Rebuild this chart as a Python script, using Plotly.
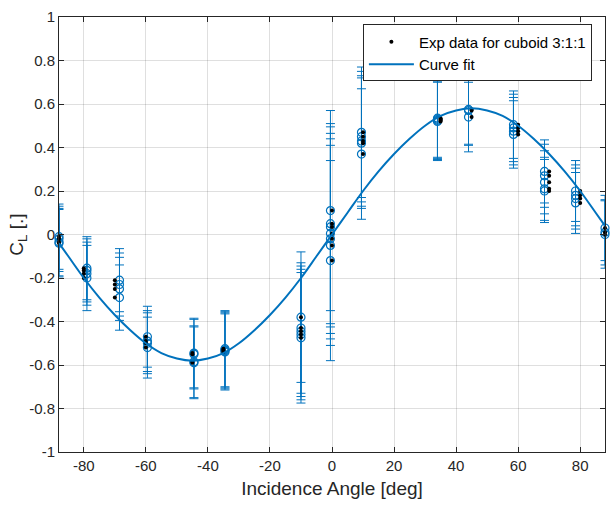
import plotly.graph_objects as go

# ---- data ----
# nominal angles of the experimental points (black dots)
exp_angles = [-88, -80, -70, -60, -45, -35, -10, 0, 10, 35, 45, 60, 70, 80, 88]
# angles at which the error-bar circles are drawn
bar_angles = [-88, -79, -68.5, -59.5, -44.5, -34.5, -10, -0.5, 9.5, 34, 44, 58.5, 68.5, 78.5, 88]
# CL values in each cluster
cl_values = [
    [-0.01, -0.02, -0.035, -0.04],
    [-0.155, -0.165, -0.18, -0.20],
    [-0.21, -0.23, -0.25, -0.29],
    [-0.47, -0.49, -0.50, -0.52],
    [-0.545, -0.55, -0.585, -0.59],
    [-0.525, -0.53, -0.535, -0.54],
    [-0.38, -0.43, -0.445, -0.46, -0.475],
    [0.11, 0.05, 0.035, 0.005, -0.02, -0.05, -0.12],
    [0.47, 0.45, 0.43, 0.42, 0.37],
    [0.52, 0.525, 0.53, 0.535],
    [0.575, 0.57, 0.54],
    [0.505, 0.49, 0.475, 0.46],
    [0.29, 0.27, 0.24, 0.21, 0.20],
    [0.20, 0.18, 0.165, 0.145],
    [0.03, 0.01, 0.0],
]
# error half-widths for each value
cl_errors = [
    [0.15, 0.15, 0.155, 0.155],
    [0.145, 0.145, 0.145, 0.15],
    [0.145, 0.145, 0.145, 0.15],
    [0.14, 0.14, 0.14, 0.14],
    [0.16, 0.16, 0.165, 0.165],
    [0.175, 0.175, 0.175, 0.175],
    [0.30, 0.30, 0.30, 0.30, 0.30],
    [0.46, 0.46, 0.46, 0.46, 0.46, 0.46, 0.46],
    [0.30, 0.30, 0.30, 0.30, 0.30],
    [0.18, 0.18, 0.18, 0.18],
    [0.16, 0.16, 0.16],
    [0.155, 0.155, 0.155, 0.155],
    [0.145, 0.145, 0.145, 0.145, 0.145],
    [0.14, 0.14, 0.14, 0.14],
    [0.15, 0.15, 0.155],
]
# curve fit, read at 5 degree steps
fit_angles = [-88, -85, -80, -75, -70, -65, -60, -55, -50, -45, -40, -35, -30, -25, -20,
              -15, -10, -5, 0, 5, 10, 15, 20, 25, 30, 35, 40, 45, 50, 55, 60, 65, 70,
              75, 80, 85, 88]
fit_values = [-0.04, -0.10, -0.20, -0.29, -0.37, -0.44, -0.50, -0.545, -0.57, -0.58,
              -0.57, -0.545, -0.50, -0.44, -0.37, -0.29, -0.20, -0.10, 0.0, 0.10, 0.20,
              0.29, 0.37, 0.44, 0.50, 0.545, 0.57, 0.58, 0.57, 0.545, 0.50, 0.44, 0.37,
              0.29, 0.20, 0.10, 0.04]
x_ticks = [-80, -60, -40, -20, 0, 20, 40, 60, 80]
x_tick_labels = ["-80", "-60", "-40", "-20", "0", "20", "40", "60", "80"]
y_ticks = [-1, -0.8, -0.6, -0.4, -0.2, 0, 0.2, 0.4, 0.6, 0.8, 1]
y_tick_labels = ["-1", "-0.8", "-0.6", "-0.4", "-0.2", "0", "0.2", "0.4", "0.6", "0.8", "1"]

# ---- flatten ----
bx, by, be, ex, ey = [], [], [], [], []
for a_bar, a_exp, vals, errs in zip(bar_angles, exp_angles, cl_values, cl_errors):
    for v, e in zip(vals, errs):
        bx.append(a_bar); by.append(v); be.append(e)
        ex.append(a_exp); ey.append(v)

BLUE = "#0072BD"
TXT = "#262626"
FONT = "Liberation Sans, Arial, sans-serif"

fig = go.Figure()
fig.add_trace(go.Scatter(
    x=bx, y=by, mode="markers", showlegend=False,
    marker=dict(symbol="circle-open", size=8, color=BLUE, line=dict(width=1.2, color=BLUE)),
    error_y=dict(type="data", array=be, symmetric=True, color=BLUE, thickness=1, width=4.5),
    cliponaxis=False,
))
fig.add_trace(go.Scatter(
    x=ex, y=ey, mode="markers", name="Exp data for cuboid 3:1:1",
    marker=dict(symbol="circle", size=4, color="black"),
    cliponaxis=False,
))
fig.add_trace(go.Scatter(
    x=fit_angles, y=fit_values, mode="lines", name="Curve fit",
    line=dict(color=BLUE, width=2, shape="spline"),
))

axis_common = dict(
    showgrid=True, gridcolor="rgba(38,38,38,0.15)", gridwidth=1,
    showline=True, linecolor=TXT, linewidth=1, mirror="ticks",
    ticks="inside", ticklen=5, tickcolor=TXT, zeroline=False,
    tickfont=dict(family=FONT, size=15, color=TXT),
)
fig.update_layout(
    width=614, height=511,
    margin=dict(l=59, r=8, t=10, b=59),
    paper_bgcolor="white", plot_bgcolor="white",
    font=dict(family=FONT, color=TXT),
    xaxis=dict(range=[-88, 88], tickvals=x_ticks, ticktext=x_tick_labels,
               title=dict(text="Incidence Angle [deg]", font=dict(family=FONT, size=19, color=TXT), standoff=8),
               **axis_common),
    yaxis=dict(range=[-1, 1], tickvals=y_ticks, ticktext=y_tick_labels,
               title=dict(text="C<sub>L</sub> [.]", font=dict(family=FONT, size=19, color=TXT), standoff=0),
               **axis_common),
    legend=dict(x=0.976, xanchor="right", y=0.983, yanchor="top",
                bgcolor="white", bordercolor=TXT, borderwidth=1, itemwidth=45,
                font=dict(family=FONT, size=15, color="black"), tracegroupgap=0),
)
fig.write_html("out.html")
